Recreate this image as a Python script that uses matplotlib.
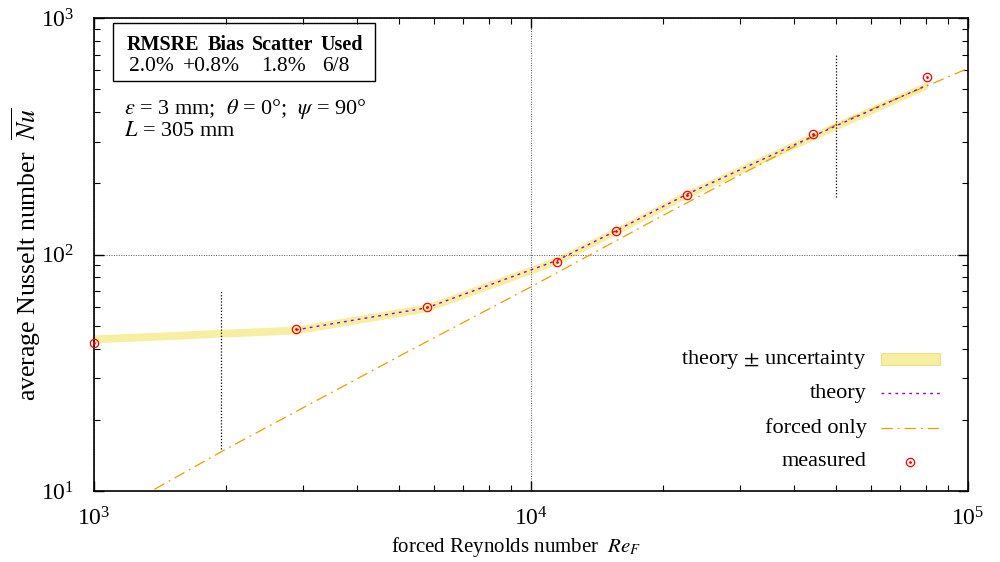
import matplotlib
matplotlib.use('Agg')
import matplotlib.pyplot as plt
from matplotlib.lines import Line2D
from matplotlib.patches import Rectangle
import numpy as np

plt.rcParams['font.family'] = ['Liberation Serif', 'DejaVu Serif']
plt.rcParams['mathtext.fontset'] = 'stix'

# measured points
re_meas = [1000, 2900, 5770, 11480, 15650, 22760, 44130, 80700]
nu_meas = [42.3, 48.4, 59.9, 92.7, 125.6, 178.6, 322, 565]

# theory at the same Re, with relative uncertainty
nu_theory = [44.0, 48.0, 59.5, 94.5, 126, 180, 316, 521]
rel_unc = 0.038

# forced convection only correlation
re_forced = [1000, 2000, 5000, 10000, 20000, 50000, 100000]
nu_forced = [7.3, 15.0, 37.2, 73, 146, 355, 612]

# short vertical markers
re_marks = [1950, 50000]
mark_spans = [(15, 70), (175, 700)]

stats_head = ['RMSRE', 'Bias', 'Scatter', 'Used']
stats_vals = ['2.0%', '+0.8%', '1.8%', '6/8']

band_col = '#f6eea0'
band_edge = '#ece08a'
theory_col = '#9400d3'
forced_col = '#e69f00'

fig = plt.figure(figsize=(10, 5.62), dpi=100)
ax = fig.add_axes([0.094, 0.1263, 0.874, 0.8417])
ax.set_xscale('log')
ax.set_yscale('log')
ax.set_xlim(1e3, 1e5)
ax.set_ylim(10, 1000)

th = np.array(nu_theory)
ax.fill_between(re_meas, th * (1 - rel_unc), th * (1 + rel_unc),
                color=band_col, lw=0, zorder=1)
ax.plot(re_meas[1:], nu_theory[1:], color=theory_col, ls=(0, (2, 3)), lw=1.0, zorder=3)
ax.plot(re_forced, nu_forced, color=forced_col, lw=0.9,
        ls=(0, (9, 4, 1.5, 4)), zorder=2)
ax.plot(re_meas, nu_meas, ls='none', marker='o', ms=6, mfc='none', mec='red',
        mew=0.9, zorder=4, clip_on=False)
ax.plot(re_meas, nu_meas, ls='none', marker='o', ms=1.0, color='red', zorder=4,
        clip_on=False)

for r, (lo, hi) in zip(re_marks, mark_spans):
    ax.plot([r, r], [lo, hi], color='k', ls=(0, (1, 1.5)), lw=0.9, zorder=2)

# grid only on the inner major lines
ax.grid(True, which='major', color='#555555', ls=(0, (1, 1.5)), lw=0.7)

ax.tick_params(which='both', direction='in', top=True, right=True, labelsize=17)
ax.tick_params(which='major', length=7, width=1.0)
ax.tick_params(which='minor', length=4, width=0.8)
ax.tick_params(axis='x', pad=12)
ax.tick_params(axis='y', pad=14)
for s in ax.spines.values():
    s.set_linewidth(1.2)

ax.set_xlabel(r'forced Reynolds number  $Re_F$', fontsize=15)
ax.xaxis.set_label_coords(0.483, -0.093)
ax.set_ylabel(r'average Nusselt number  $\overline{Nu}$', fontsize=18.5)
ax.yaxis.set_label_coords(-0.058, 0.5)

# stats box
ax.add_patch(Rectangle((0.0215, 0.866), 0.2995, 0.1225, transform=ax.transAxes,
                       fill=False, lw=1.0, ec='k', zorder=5))
for lab, x in zip(stats_head, [0.0784, 0.151, 0.2157, 0.2834]):
    ax.text(x, 0.943, lab, transform=ax.transAxes, ha='center', va='center',
            fontsize=14.5, fontweight='bold')
for lab, x in zip(stats_vals, [0.0660, 0.1347, 0.2174, 0.2769]):
    ax.text(x, 0.898, lab, transform=ax.transAxes, ha='center', va='center',
            fontsize=15.5)
ax.text(0.034, 0.807, r'$\varepsilon$ = 3 mm;  $\theta$ = 0°;  $\psi$ = 90°',
        transform=ax.transAxes, ha='left', va='center', fontsize=16)
ax.text(0.034, 0.760, r'$L$ = 305 mm', transform=ax.transAxes, ha='left',
        va='center', fontsize=16)

# legend, gnuplot style: text right-aligned, sample on the right
labels = ['theory $\\pm$ uncertainty', 'theory', 'forced only', 'measured']
ys = [0.279, 0.2066, 0.1338, 0.062]
tx, s0, s1 = 0.884, 0.9, 0.968
for lab, y in zip(labels, ys):
    ax.text(tx, y, lab, transform=ax.transAxes, ha='right', va='center', fontsize=16)
ax.add_patch(Rectangle((s0, ys[0] - 0.0125), s1 - s0, 0.025, transform=ax.transAxes,
                       fc=band_col, ec=band_edge, lw=0.8))
ax.add_line(Line2D([s0, s1], [ys[1]] * 2, transform=ax.transAxes, color=theory_col,
                   ls=(0, (2, 3)), lw=1.0))
ax.add_line(Line2D([s0, s1], [ys[2]] * 2, transform=ax.transAxes, color=forced_col,
                   ls=(0, (9, 4, 1.5, 4)), lw=0.9))
mx = (s0 + s1) / 2
ax.add_line(Line2D([mx], [ys[3]], transform=ax.transAxes, ls='none', marker='o', ms=6,
                   mfc='none', mec='red', mew=0.9))
ax.add_line(Line2D([mx], [ys[3]], transform=ax.transAxes, ls='none', marker='o', ms=1.0,
                   color='red'))

fig.savefig('out.png', dpi=100)
